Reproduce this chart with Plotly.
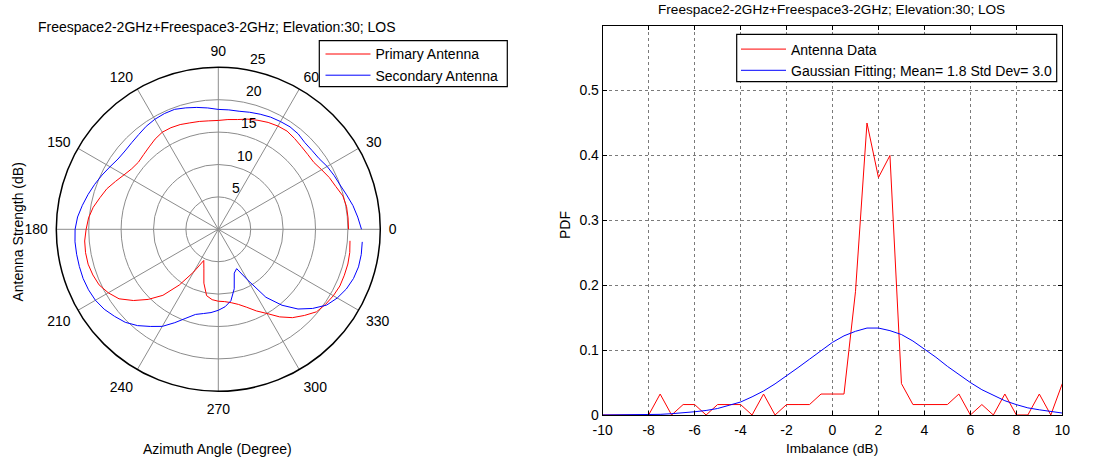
import numpy as np
import plotly.graph_objects as go

# ---------------- polar pattern data (dB) ----------------
azimuth_deg = list(range(0, 360, 5))

primary_db = [
    20.1, 20.1, 20.1, 19.9, 19.3, 18.9, 18.4, 18.0, 18.0, 18.1, 18.3, 18.5,
    18.4, 18.2, 17.9, 17.6, 17.2, 17.0, 16.8, 16.8, 16.9, 17.0, 17.2, 17.3,
    17.3, 17.0, 16.6, 16.3, 16.1, 16.3, 16.8, 17.5, 18.3, 18.9, 19.6, 20.1,
    20.4, 20.7, 20.8, 20.8, 20.6, 20.3, 19.6, 18.7, 17.1, 15.3, 13.3, 10.5,
    7.6, 5.3, 6.5, 8.6, 10.4, 10.9, 11.1, 11.2, 11.5, 12.0, 12.8, 13.9,
    15.0, 16.5, 17.8, 18.8, 19.8, 20.2, 20.5, 20.7, 20.7, 20.7, 20.6, 20.4,
]

secondary_db = [
    22.1, 21.6, 21.1, 20.5, 20.0, 19.7, 19.4, 19.0, 18.9, 18.9, 19.2, 19.3,
    19.2, 19.1, 18.9, 18.7, 18.5, 18.5, 18.5, 18.8, 19.1, 19.4, 19.7, 19.7,
    19.6, 19.4, 19.1, 18.9, 18.8, 18.9, 19.3, 19.8, 20.3, 20.8, 21.3, 21.8,
    22.1, 22.2, 22.2, 22.2, 22.2, 22.1, 21.9, 21.5, 20.9, 20.3, 19.4, 18.3,
    17.3, 15.9, 14.6, 13.6, 13.2, 12.9, 12.5, 12.0, 11.2, 9.5, 7.2, 6.7,
    9.0, 12.8, 15.3, 17.4, 19.0, 20.4, 21.2, 21.8, 22.2, 22.4, 22.4, 22.3,
]

radial_ticks = [5, 10, 15, 20, 25]
angle_ticks = list(range(0, 360, 30))

# ---------------- imbalance histogram data ----------------
imbalance_db = [x / 2 for x in range(-20, 21)]

antenna_pdf = [
    0.0, 0.0, 0.0, 0.0, 0.0, 0.0323, 0.0, 0.0161, 0.0161, 0.0, 0.0161,
    0.0161, 0.0161, 0.0, 0.0323, 0.0, 0.0161, 0.0161, 0.0161, 0.0323, 0.0323,
    0.0323, 0.19, 0.45, 0.366, 0.40, 0.0484, 0.0161, 0.0161, 0.0161, 0.0161,
    0.0323, 0.0, 0.0161, 0.0, 0.0323, 0.0, 0.0, 0.0323, 0.0, 0.0484,
]

gaussian_pdf = [
    0.000, 0.000, 0.000, 0.000, 0.001, 0.001, 0.002, 0.003, 0.005, 0.007,
    0.010, 0.015, 0.020, 0.028, 0.037, 0.048, 0.060, 0.073, 0.086, 0.099,
    0.112, 0.122, 0.129, 0.134, 0.134, 0.130, 0.124, 0.114, 0.102, 0.089,
    0.075, 0.062, 0.050, 0.039, 0.030, 0.022, 0.016, 0.011, 0.008, 0.005,
    0.003,
]

x_ticks = list(range(-10, 11, 2))
y_ticks = [0, 0.1, 0.2, 0.3, 0.4, 0.5]

# ---------------- styling ----------------
FONT = "Liberation Sans, Arial, Helvetica, sans-serif"
W, H = 1112, 461
GRID = "#8c8c8c"


def px_x(v):
    return v / W


def px_y(v):
    return 1 - v / H


fig = go.Figure()

fig.add_trace(go.Scatterpolar(
    r=primary_db, theta=azimuth_deg, mode="lines", name="Primary Antenna",
    line=dict(color="#ff0000", width=1), legend="legend", subplot="polar",
))
fig.add_trace(go.Scatterpolar(
    r=secondary_db, theta=azimuth_deg, mode="lines", name="Secondary Antenna",
    line=dict(color="#0000ff", width=1), legend="legend", subplot="polar",
))

fig.add_trace(go.Scatter(
    x=imbalance_db, y=antenna_pdf, mode="lines", name="Antenna Data",
    line=dict(color="#ff0000", width=1), legend="legend2",
))
fig.add_trace(go.Scatter(
    x=imbalance_db, y=gaussian_pdf, mode="lines",
    name="Gaussian Fitting; Mean= 1.8 Std Dev= 3.0",
    line=dict(color="#0000ff", width=1), legend="legend2",
))

# polar plot: centre (218.3, 229.3) px, radius 162 px
cx, cy, rad = 218.3, 229.3, 162
px_per_db = rad / radial_ticks[-1]

fig.update_layout(
    polar=dict(
        domain=dict(x=[px_x(cx - rad), px_x(cx + rad)],
                    y=[px_y(cy + rad), px_y(cy - rad)]),
        bgcolor="white",
        radialaxis=dict(range=[0, 25], tickvals=radial_ticks, showticklabels=False,
                        ticks="", showline=False, gridcolor=GRID, gridwidth=1),
        angularaxis=dict(tickvals=angle_ticks, ticktext=[str(a) for a in angle_ticks],
                         direction="counterclockwise", rotation=0,
                         ticks="outside", ticklen=5, tickcolor="rgba(0,0,0,0)",
                         gridcolor=GRID, gridwidth=1, showline=True,
                         linecolor="black", linewidth=1.5,
                         tickfont=dict(family=FONT, size=14, color="black")),
    ),
    xaxis=dict(
        domain=[px_x(602.7), px_x(1062.3)], range=[-10, 10], tickvals=x_ticks,
        ticktext=[str(t) for t in x_ticks], showgrid=True, gridcolor="#7a7a7a",
        griddash="dot", gridwidth=1, zeroline=False, showline=True, linecolor="black",
        linewidth=1, mirror="ticks", ticks="inside", ticklen=4, tickcolor="black",
        tickfont=dict(family=FONT, size=14, color="black"), anchor="y",
        automargin=False, ticklabelstandoff=2,
    ),
    yaxis=dict(
        domain=[px_y(415), px_y(25.7)], range=[0, 0.6], tickvals=y_ticks,
        ticktext=["0", "0.1", "0.2", "0.3", "0.4", "0.5"], showgrid=True,
        gridcolor="#7a7a7a", griddash="dot", gridwidth=1, zeroline=False,
        showline=True, linecolor="black", linewidth=1, mirror="ticks",
        ticks="inside", ticklen=4, tickcolor="black",
        tickfont=dict(family=FONT, size=14, color="black"), anchor="x",
        automargin=False,
    ),
    legend=dict(x=px_x(320.5), y=px_y(38.4), xanchor="left", yanchor="top",
                bgcolor="rgba(0,0,0,0)", borderwidth=0,
                font=dict(family=FONT, size=14, color="black"), itemwidth=45,
                tracegroupgap=0),
    legend2=dict(x=px_x(736.0), y=px_y(33.5), xanchor="left", yanchor="top",
                 bgcolor="rgba(0,0,0,0)", borderwidth=0,
                 font=dict(family=FONT, size=14, color="black"), itemwidth=45,
                 tracegroupgap=0),
    width=W, height=H, margin=dict(l=0, r=0, t=0, b=0, autoexpand=False),
    paper_bgcolor="white", plot_bgcolor="white",
    font=dict(family=FONT, size=14, color="black"),
    showlegend=True,
)

# legend frames
for x0, y0, x1, y1 in [(319.3, 40.7, 507.3, 86.7), (736.7, 34.3, 1056.7, 81.7)]:
    fig.add_shape(type="rect", xref="paper", yref="paper",
                  x0=px_x(x0), x1=px_x(x1), y0=px_y(y1), y1=px_y(y0),
                  line=dict(color="black", width=1.2), fillcolor="white", layer="above")

# radial tick labels beside the 82 degree spoke
spoke = np.deg2rad(82)
for t in radial_ticks:
    fig.add_annotation(
        text=str(t), xref="paper", yref="paper",
        x=px_x(cx + t * px_per_db * np.cos(spoke) + 7.5),
        y=px_y(cy - t * px_per_db * np.sin(spoke) - 9.6),
        xanchor="left", yanchor="middle", showarrow=False,
        font=dict(family=FONT, size=14, color="black"),
    )

title = "Freespace2-2GHz+Freespace3-2GHz; Elevation:30; LOS"
annotations = [
    dict(text=title, x=217.2, y=26.7, size=14),
    dict(text=title, x=831.2, y=10, size=13.6),
    dict(text="Azimuth Angle (Degree)", x=217.8, y=449.3, size=14),
    dict(text="Antenna Strength (dB)", x=17, y=232.5, size=14, angle=-90),
    dict(text="PDF", x=565, y=225, size=14, angle=-90),
    dict(text="Imbalance (dB)", x=831.7, y=448.3, size=13.6),
]
for a in annotations:
    fig.add_annotation(
        text=a["text"], x=px_x(a["x"]), y=px_y(a["y"]), xref="paper", yref="paper",
        xanchor="center", yanchor="middle", showarrow=False,
        textangle=a.get("angle", 0),
        font=dict(family=FONT, size=a["size"], color="black"),
    )

fig.write_html("out.html")
